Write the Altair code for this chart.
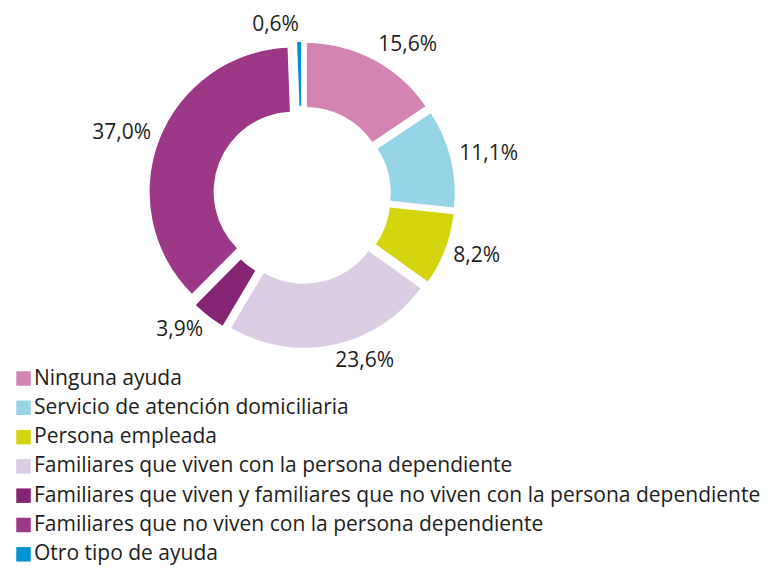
import math
import altair as alt
import pandas as pd

categories = [
    "Ninguna ayuda",
    "Servicio de atención domiciliaria",
    "Persona empleada",
    "Familiares que viven con la persona dependiente",
    "Familiares que viven y familiares que no viven con la persona dependiente",
    "Familiares que no viven con la persona dependiente",
    "Otro tipo de ayuda",
]
values = [15.6, 11.1, 8.2, 23.6, 3.9, 37.0, 0.6]
value_labels = ["15,6%", "11,1%", "8,2%", "23,6%", "3,9%", "37,0%", "0,6%"]
colors = ["#d384b3", "#95d3e6", "#d3d40e", "#dacde4", "#852473", "#9d3788", "#0093cf"]

FONT = "Open Sans"
TEXT_COLOR = "#1d1d1b"
CX, CY = 294, 187
EXPLODE = 9
RX, RY = 162, 170

df = pd.DataFrame({
    "cat": categories,
    "value": values,
    "label": value_labels,
    "order": list(range(len(categories))),
})

base = alt.Chart(df).transform_window(
    cum="sum(value)", sort=[alt.SortField("order")], frame=[None, 0]
).transform_calculate(
    start="datum.cum - datum.value",
    mid="(datum.cum - datum.value / 2) * 2 * PI / 100",
).transform_calculate(
    side="sin(datum.mid)",
    ax=f"{CX} + {EXPLODE} * sin(datum.mid)",
    ay=f"{CY} - {EXPLODE} * cos(datum.mid)",
    lx=f"{CX} + {RX} * sin(datum.mid)",
    ly=f"{CY} - {RY} * cos(datum.mid)",
)

arcs = base.mark_arc(innerRadius=80, outerRadius=144, padAngle=0.008).encode(
    x=alt.X("ax:Q", scale=None, axis=None),
    y=alt.Y("ay:Q", scale=None, axis=None),
    theta=alt.Theta("start:Q", scale=alt.Scale(domain=[0, 100], range=[0, 2 * math.pi], nice=False, zero=True)),
    theta2="cum:Q",
    color=alt.Color(
        "cat:N",
        scale=alt.Scale(domain=categories, range=colors),
        sort=categories,
        legend=alt.Legend(
            orient="none",
            legendX=5,
            legendY=360,
            title=None,
            symbolType="square",
            symbolSize=210,
            symbolStrokeWidth=0,
            labelFont=FONT,
            labelFontSize=21,
            labelColor=TEXT_COLOR,
            rowPadding=7.3,
            labelOffset=0,
            padding=0,
            labelLimit=0,
        ),
    ),
)

text_enc = dict(
    x=alt.X("lx:Q", scale=None, axis=None),
    y=alt.Y("ly:Q", scale=None, axis=None),
    text="label:N",
)

texts_right = base.transform_filter("datum.side >= 0").mark_text(
    font=FONT, fontSize=21, color=TEXT_COLOR, align="left", baseline="middle"
).encode(**text_enc)

texts_left = base.transform_filter("datum.side < 0").mark_text(
    font=FONT, fontSize=21, color=TEXT_COLOR, align="right", baseline="middle"
).encode(**text_enc)

chart = alt.layer(arcs, texts_right, texts_left).properties(
    width=763, height=557, padding=0, autosize="none"
).configure_view(stroke=None)

chart.save("out.html", embed_options={"renderer": "svg", "actions": False})
